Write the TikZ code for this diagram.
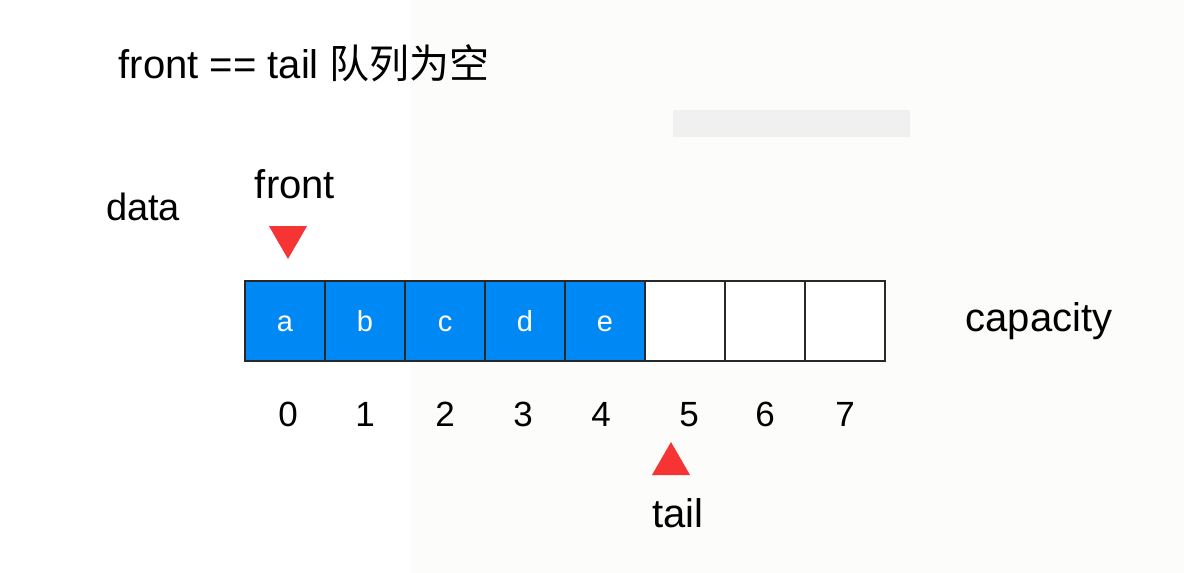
\documentclass[tikz,border=0pt]{standalone}
\usepackage{fontspec}
\setmainfont{Liberation Sans}
\newfontfamily\cjk{Noto Sans CJK SC}
\usepackage{tikz}
\usetikzlibrary{positioning}
\usetikzlibrary{shapes.geometric}
\definecolor{cellblue}{RGB}{0,137,245}
\definecolor{ptrred}{RGB}{246,52,52}
\definecolor{cellline}{RGB}{40,40,40}
\definecolor{paper}{RGB}{252,253,250}
\tikzset{
every picture/.style={x=0.5pt, y=-0.5pt, line width=0.75pt},
%%%%%%%%%%  Node styles
slot/.style={draw=cellline, fill=white, minimum size=40pt, inner sep=0,
             outer sep=0},
filled_slot/.style={slot, fill=cellblue, text=white, text height=10pt,
                    text depth=0pt, font=\fontsize{14.5}{16}\selectfont},
index/.style={inner sep=0, text height=12.5pt, text depth=0pt,
              font=\fontsize{17.5}{20}\selectfont},
caption/.style={inner sep=0, font=\fontsize{20}{24}\selectfont},
%%%% pointer triangles
pointer/.style={regular polygon, regular polygon sides=3, fill=ptrred,
                draw=none, minimum size=22pt, inner sep=0},
down_pointer/.style={pointer, shape border rotate=180},
up_pointer/.style={pointer},
}
\begin{document}
\begin{tikzpicture}
\fill[paper] (0,0) rectangle (1184,573);
\fill[white] (0,0) rectangle (410,573);
\useasboundingbox (0,0) rectangle (1184,573);
\fill[black!6] (673,110) rectangle (910,137);
\node[caption, anchor=base west] (title) at (118,78)
     {front == tail {\cjk 队列为空}};
\node[caption, font=\fontsize{19}{22}\selectfont] (data) at (143,207) {data};
%%%% the array
\node[filled_slot] (c0) at (285,321) {a};
\node[filled_slot, right=0pt of c0] (c1) {b};
\node[filled_slot, right=0pt of c1] (c2) {c};
\node[filled_slot, right=0pt of c2] (c3) {d};
\node[filled_slot, right=0pt of c3] (c4) {e};
\node[slot, right=0pt of c4] (c5) {};
\node[slot, right=0pt of c5] (c6) {};
\node[slot, right=0pt of c6] (c7) {};
\node[caption, right=40pt of c7] (capacity) {capacity};
%%%% indices
\node[index, below=20pt of c0, xshift=1.5pt] (i0) {0};
\node[index, below=20pt of c1] (i1) {1};
\node[index, below=20pt of c2] (i2) {2};
\node[index, below=20pt of c3, xshift=-1pt] (i3) {3};
\node[index, below=20pt of c4, xshift=-2pt] (i4) {4};
\node[index, below=20pt of c5, xshift=2pt] (i5) {5};
\node[index, below=20pt of c6] (i6) {6};
\node[index, below=20pt of c7] (i7) {7};
%%%% front and tail
\node[caption] (front) at (295,184) {front};
\node[down_pointer] (fptr) at (288,237) {};
\node[up_pointer] (tptr) at (671,464) {};
\node[caption] (tail) at (678,513) {tail};
\end{tikzpicture}
\end{document}
